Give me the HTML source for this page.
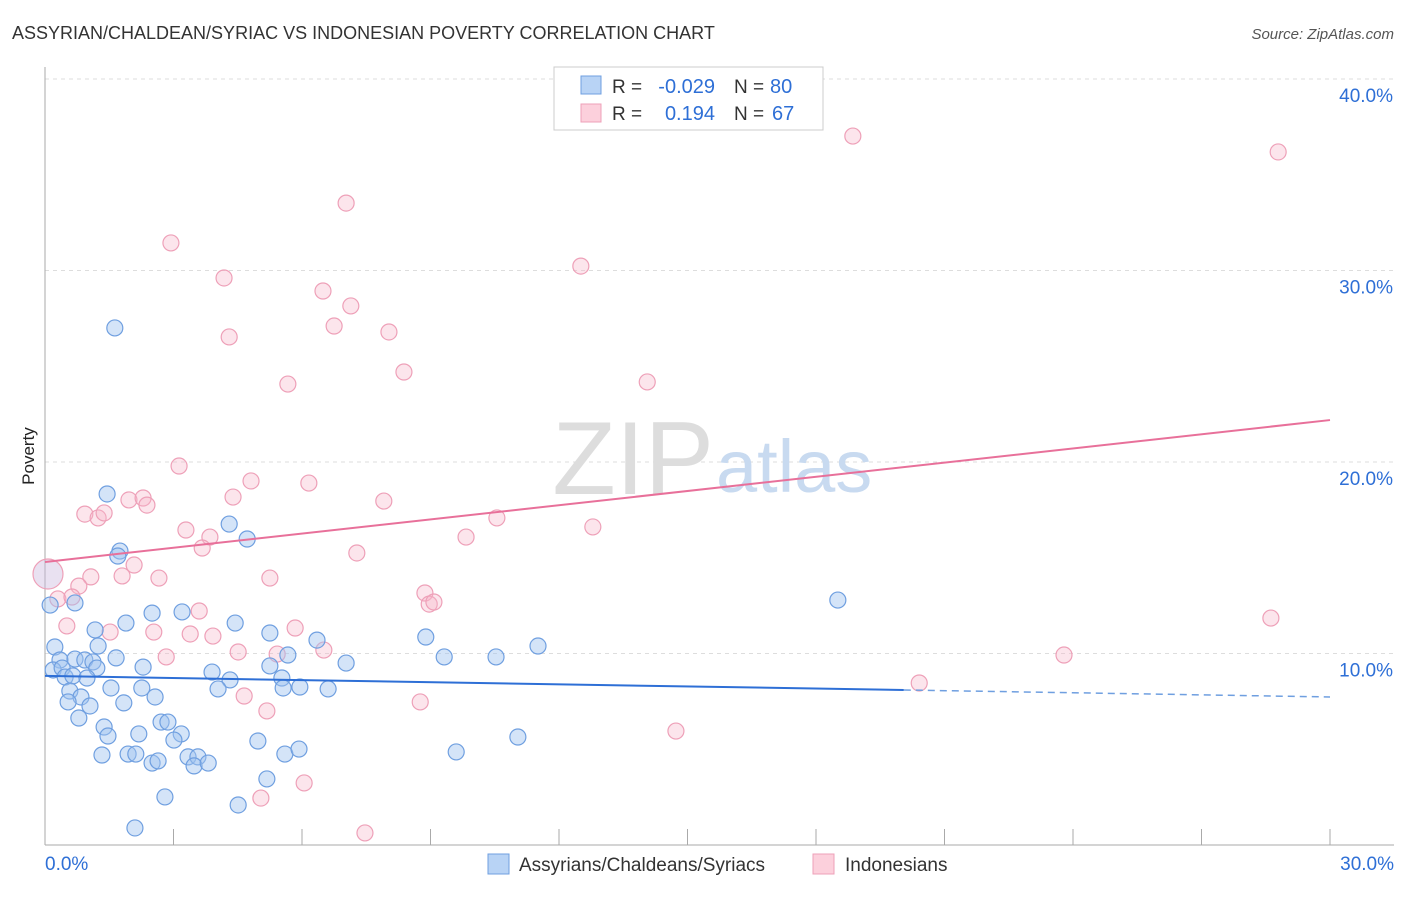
<!DOCTYPE html>
<html><head><meta charset="utf-8"><style>
body{margin:0;background:#fff;font-family:"Liberation Sans",sans-serif}
svg text{font-family:"Liberation Sans",sans-serif}
</style></head><body>
<svg id="chart" width="1406" height="892">
<text x="12" y="39" font-size="18" fill="#333">ASSYRIAN/CHALDEAN/SYRIAC VS INDONESIAN POVERTY CORRELATION CHART</text>
<text x="1394" y="39" font-size="15" fill="#555" font-style="italic" text-anchor="end">Source: ZipAtlas.com</text>
<text x="34" y="456" font-size="17" fill="#222" transform="rotate(-90 34 456)" text-anchor="middle">Poverty</text>
<g id="grid"></g>
<text x="714" y="494" font-size="104" fill="#ddd" text-anchor="end" font-family="Liberation Serif">ZIP</text>
<text x="716" y="492" font-size="74" fill="#c8daf0">atlas</text>
<g id="marks"></g>
<g>
<rect x="554" y="67" width="269" height="63" fill="#fff" stroke="#ccc"/>
<rect x="581" y="76" width="20" height="18" fill="#b8d3f5" stroke="#6f9fe0"/>
<rect x="581" y="104" width="20" height="18" fill="#fcd0dc" stroke="#eea0b8"/>
<text x="612" y="93" font-size="19" fill="#333">R =</text>
<text x="715" y="93" font-size="20" fill="#2e6fd6" text-anchor="end">-0.029</text>
<text x="734" y="93" font-size="19" fill="#333">N =</text>
<text x="770" y="93" font-size="20" fill="#2e6fd6">80</text>
<text x="612" y="120" font-size="19" fill="#333">R =</text>
<text x="715" y="120" font-size="20" fill="#2e6fd6" text-anchor="end">0.194</text>
<text x="734" y="120" font-size="19" fill="#333">N =</text>
<text x="772" y="120" font-size="20" fill="#2e6fd6">67</text>
</g>
<g>
<rect x="488" y="854" width="21" height="20" fill="#b8d3f5" stroke="#6f9fe0"/>
<text x="519" y="871" font-size="19" fill="#333">Assyrians/Chaldeans/Syriacs</text>
<rect x="813" y="854" width="21" height="20" fill="#fcd0dc" stroke="#eea0b8"/>
<text x="845" y="871" font-size="19" fill="#333">Indonesians</text>
</g>
</svg>
<script>
const yTicks=[10,20,30,40];
const xTickLabels=["0.0%","30.0%"];
const blueX=[1.63,1.45,4.30,4.72,1.75,1.70,0.12,0.70,2.50,3.20,1.89,4.44,1.17,5.25,0.23,1.24,6.35,8.89,11.51,18.51,0.35,0.70,0.93,1.12,1.66,5.67,9.32,10.53,7.03,0.19,0.40,1.21,2.29,3.90,5.25,0.47,0.65,0.98,4.32,5.53,0.58,1.54,2.26,4.04,5.56,5.95,6.61,0.84,0.54,1.84,2.57,1.05,0.79,1.38,2.71,2.87,1.47,2.19,3.18,3.01,4.97,11.04,1.33,1.94,2.12,3.34,3.57,5.60,5.93,9.60,2.50,2.64,3.48,3.81,5.18,2.80,4.51,2.10];
const blueY=[27.0,18.33,16.76,15.98,15.35,15.09,12.53,12.64,12.11,12.17,11.59,11.59,11.23,11.07,10.34,10.39,10.70,10.86,10.39,12.79,9.66,9.71,9.66,9.56,9.77,9.92,9.82,9.82,9.50,9.14,9.24,9.24,9.29,9.03,9.35,8.77,8.83,8.72,8.62,8.72,8.04,8.20,8.20,8.15,8.20,8.25,8.15,7.73,7.47,7.42,7.73,7.26,6.63,6.16,6.42,6.42,5.69,5.80,5.80,5.48,5.43,5.64,4.70,4.75,4.75,4.60,4.60,4.75,5.01,4.86,4.28,4.39,4.13,4.28,3.45,2.51,2.09,0.89];
const pinkX=[18.86,28.79,7.03,2.94,4.18,12.51,6.49,7.14,6.75,8.03,4.30,8.38,5.67,14.06,3.13,4.81,6.16,4.39,1.96,2.29,2.38,7.91,0.93,1.24,1.38,10.55,12.79,3.29,3.85,9.83,3.67,7.28,2.08,1.07,1.80,2.66,5.25,0.79,0.30,0.63,8.87,8.97,9.08,3.60,28.62,0.51,1.52,2.54,3.39,3.92,5.84,6.51,4.51,5.42,2.83,23.79,20.41,4.65,8.76,5.18,14.73,5.04,6.05,7.47];
const pinkY=[37.02,36.19,33.52,31.44,29.61,30.23,28.93,28.15,27.10,26.79,26.53,24.70,24.07,24.18,19.79,19.01,18.90,18.17,18.02,18.12,17.75,17.96,17.28,17.08,17.34,17.08,16.61,16.45,16.08,16.08,15.51,15.25,14.62,14.00,14.05,13.94,13.94,13.52,12.85,12.95,13.16,12.58,12.69,12.22,11.85,11.44,11.12,11.12,11.02,10.91,11.33,10.18,10.08,9.97,9.82,9.92,8.46,7.78,7.47,7.00,5.95,2.45,3.24,0.63];
const bigPoint=[0.07,14.15];
const blueTrend=[8.83,7.73];
const pinkTrend=[14.78,22.19];
const blueSolidEnd=20.05;
const X=v=>45+v*(1285/30);
const Y=v=>845-v*19.15;
const NS="http://www.w3.org/2000/svg";
function mk(tag,attrs,parent){const e=document.createElementNS(NS,tag);for(const k in attrs)e.setAttribute(k,attrs[k]);parent.appendChild(e);return e;}
const grid=document.getElementById('grid'),marks=document.getElementById('marks');
yTicks.forEach(t=>{
  const l=mk('line',{x1:45,x2:1394,y1:Y(t),y2:Y(t),stroke:'#ddd','stroke-dasharray':'4,4'},grid);
  
  
  const tx=mk('text',{x:1393,y:Y(t)+23,'font-size':19,fill:'#2e6fd6','text-anchor':'end'},grid);
  tx.textContent=t.toFixed(1)+'%';
  
  
});
const ax=mk('line',{x1:45,x2:1394,y1:845,y2:845,stroke:'#aaa'},grid);


const ay=mk('line',{x1:45,x2:45,y1:67,y2:845,stroke:'#aaa'},grid);


for(let i=0;i<=10;i++){
  const t=mk('line',{x1:X(i*3),x2:X(i*3),y1:829,y2:845,stroke:'#aaa'},grid);
  
  
}
[[0,'start',45],[30,'end',1394]].forEach((d,i)=>{
  const tx=mk('text',{x:d[2],y:870,'font-size':19,fill:'#2e6fd6','text-anchor':d[1]},grid);
  tx.textContent=xTickLabels[i];
  
  
});
pinkX.forEach((x,i)=>{
  const c=mk('circle',{cx:X(x),cy:Y(pinkY[i]),r:8,fill:'rgba(246,180,200,0.35)',stroke:'#eea0b8','stroke-width':1.2},marks);
  
  
});
blueX.forEach((x,i)=>{
  const c=mk('circle',{cx:X(x),cy:Y(blueY[i]),r:8,fill:'rgba(160,196,240,0.45)',stroke:'#6f9fe0','stroke-width':1.2},marks);
  
  
});
const bp=mk('circle',{cx:X(bigPoint[0]),cy:Y(bigPoint[1]),r:15,fill:'rgba(200,180,220,0.4)',stroke:'#eea0b8','stroke-width':1.2},marks);


const by=v=>blueTrend[0]+(blueTrend[1]-blueTrend[0])*v/30;
const b1=mk('line',{x1:X(0),y1:Y(by(0)),x2:X(blueSolidEnd),y2:Y(by(blueSolidEnd)),stroke:'#2e6fd6','stroke-width':2},marks);


const b2=mk('line',{x1:X(blueSolidEnd),y1:Y(by(blueSolidEnd)),x2:X(30),y2:Y(by(30)),stroke:'#6f9fe0','stroke-width':1.5,'stroke-dasharray':'7,5'},marks);


const p1=mk('line',{x1:X(0),y1:Y(pinkTrend[0]),x2:X(30),y2:Y(pinkTrend[1]),stroke:'#e8709a','stroke-width':2},marks);


</script>
</body></html>
